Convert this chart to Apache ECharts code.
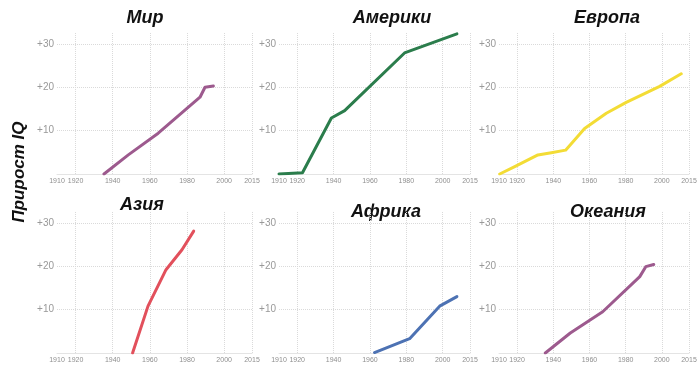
<!DOCTYPE html>
<html>
<head>
<meta charset="utf-8">
<script src="https://cdn.jsdelivr.net/npm/echarts@6/dist/echarts.min.js"></script>
<style>
html,body{margin:0;padding:0;background:#fff;}
#c{width:700px;height:372px;}
</style>
</head>
<body>
<div id="c"></div>
<script>
// ---- data ----
const panelTitles = ['Мир', 'Америки', 'Европа', 'Азия', 'Африка', 'Океания'];
const yAxisTitle = 'Прирост IQ';
const xTickLabels = [1910, 1920, 1940, 1960, 1980, 2000, 2015];
const xGridValues = [1920, 1940, 1960, 1980, 2000, 2015];
const yTickValues = [10, 20, 30];

const worldYears = [1935.3, 1948.4, 1964.5, 1987.0, 1989.7, 1994.2];
const worldValues = [0, 4.4, 9.4, 17.7, 20.0, 20.3];

const americasYears = [1910, 1922.9, 1938.8, 1946.1, 1979.0, 2007.8];
const americasValues = [0, 0.3, 12.9, 14.6, 27.9, 32.3];

const europeYears = [1910.4, 1918.7, 1931.5, 1938.9, 1946.8, 1957.3, 1969.3, 1980.3, 1998.8, 2010.7];
const europeValues = [0, 1.7, 4.4, 4.9, 5.5, 10.5, 14.0, 16.5, 20.2, 23.1];

const asiaYears = [1950.7, 1959.0, 1968.7, 1977.3, 1983.6];
const asiaValues = [0, 10.8, 19.2, 23.8, 28.1];

const africaYears = [1962.5, 1981.8, 1998.3, 2007.8];
const africaValues = [0.1, 3.3, 10.8, 13.0];

const oceaniaYears = [1935.6, 1949.4, 1967.3, 1987.8, 1991.1, 1995.5];
const oceaniaValues = [0, 4.6, 9.5, 17.6, 19.9, 20.4];

const panelYears = [worldYears, americasYears, europeYears, asiaYears, africaYears, oceaniaYears];
const panelValues = [worldValues, americasValues, europeValues, asiaValues, africaValues, oceaniaValues];

// ---- layout / style ----
const colors = ['#9d5a8e', '#2b7d4c', '#f3dc35', '#e2505c', '#4d72b3', '#9d5a8e'];
const gridLefts = [57, 279, 499];
const gridWidths = [195, 191, 190];
const gridTops = [33, 212];
const gridHeight = 141;
const titlePos = [[145, 18], [392, 18], [607, 18], [142, 205], [386, 212], [608, 212]];

const grids = [], xAxes = [], yAxes = [], series = [], graphics = [];
for (let i = 0; i < 6; i++) {
  const col = i % 3, row = Math.floor(i / 3);
  grids.push({left: gridLefts[col], width: gridWidths[col], top: gridTops[row], height: gridHeight, containLabel: false});
  xAxes.push({
    type: 'value', gridIndex: i, min: 1910, max: 2015,
    axisLine: {show: true, lineStyle: {color: '#e4e4e4', width: 1}},
    axisTick: {show: false, customValues: xGridValues},
    axisLabel: {customValues: xTickLabels, fontSize: 7, color: '#8f8f8f', margin: 4,
      formatter: v => String(Math.round(v)),
      fontFamily: 'Liberation Sans, Arial, sans-serif', showMinLabel: true, showMaxLabel: true, hideOverlap: false},
    splitLine: {show: true, lineStyle: {color: '#dadada', type: 'dotted', width: 1}}
  });
  yAxes.push({
    type: 'value', gridIndex: i, min: 0, max: 32.5,
    axisLine: {show: false},
    axisTick: {show: false, customValues: yTickValues},
    axisLabel: {customValues: yTickValues, formatter: v => '+' + v, fontSize: 10, color: '#999999', margin: 3,
      fontFamily: 'Liberation Sans, Arial, sans-serif'},
    splitLine: {show: true, lineStyle: {color: '#dadada', type: 'dotted', width: 1}}
  });
  series.push({
    type: 'line', xAxisIndex: i, yAxisIndex: i,
    data: panelYears[i].map((y, k) => [y, panelValues[i][k]]),
    symbol: 'none', silent: true,
    lineStyle: {color: colors[i], width: 3, cap: 'round', join: 'round'}
  });
  graphics.push({
    type: 'text', x: titlePos[i][0], y: titlePos[i][1],
    style: {text: panelTitles[i], font: 'italic bold 18px "Liberation Sans", Arial, sans-serif',
      fill: '#111', align: 'center', verticalAlign: 'middle'}
  });
}
graphics.push({
  type: 'text', x: 19, y: 172, rotation: Math.PI / 2,
  style: {text: yAxisTitle, font: 'italic bold 17px "Liberation Sans", Arial, sans-serif',
    fill: '#111', align: 'center', verticalAlign: 'middle'}
});

const chart = echarts.init(document.getElementById('c'), null, {renderer: 'canvas'});
chart.setOption({
  backgroundColor: '#fff',
  animation: false,
  grid: grids, xAxis: xAxes, yAxis: yAxes, series: series,
  graphic: graphics
});
</script>
</body>
</html>
